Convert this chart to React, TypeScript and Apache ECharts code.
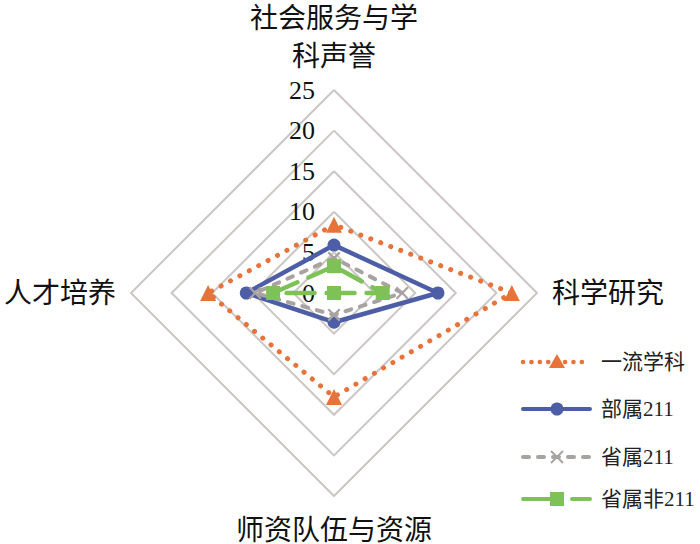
import React, { useEffect, useRef } from "react";
import * as echarts from "echarts";

const indicatorNames = ["社会服务与学\n科声誉", "人才培养", "师资队伍与资源", "科学研究"];
const axisMax = 25;
const seriesNames = ["一流学科", "部属211", "省属211", "省属非211"];
// order: top, left, bottom, right
const yiliu = [8.4, 15.5, 12.8, 21.9];
const bushu211 = [5.9, 10.8, 3.6, 12.8];
const shengshu211 = [4.3, 9.7, 2.7, 8.4];
const shengshuFei211 = [3.3, 7.5, 0, 6.0];

const FONT = '"Liberation Serif", "Noto Sans CJK SC", serif';
const colors = ["#E8733A", "#4E5EA6", "#A8A3A1", "#7DC157"];
const X_PATH =
  "path://M0,1.2 L1.2,0 L5,3.8 L8.8,0 L10,1.2 L6.2,5 L10,8.8 L8.8,10 L5,6.2 L1.2,10 L0,8.8 L3.8,5 Z";

export default function App() {
  const ref = useRef<HTMLDivElement>(null);
  useEffect(() => {
    if (!ref.current) return;
    const chart = echarts.init(ref.current, undefined, { renderer: "svg" });
    const values = [yiliu, bushu211, shengshu211, shengshuFei211];
    const symbols = ["triangle", "circle", X_PATH, "rect"];
    const symbolSizes = [16, 13, 13, 14];
    const widths = [5, 4.5, 4, 4.5];
    const dashes: any[] = [[0.1, 10.6], "solid", [6, 9], [28, 12]];

    const legendYs = [362, 409, 457, 499];
    const legendGraphics: any[] = [];
    seriesNames.forEach((name, i) => {
      const y = legendYs[i];
      const c = colors[i];
      legendGraphics.push({
        type: "line",
        shape: { x1: 523, y1: y, x2: 590, y2: y },
        style: {
          stroke: c,
          lineWidth: i === 0 ? 4.5 : 4,
          lineDash: dashes[i] === "solid" ? null : i === 0 ? [0.1, 8.3] : i === 3 ? [34, 15] : dashes[i],
          lineCap: "round",
        },
      });
      const mx = 557;
      if (i === 0) {
        legendGraphics.push({
          type: "polygon",
          shape: { points: [[mx, y - 8], [mx + 8, y + 6], [mx - 8, y + 6]] },
          style: { fill: c },
        });
      } else if (i === 1) {
        legendGraphics.push({ type: "circle", shape: { cx: mx, cy: y, r: 6.5 }, style: { fill: c } });
      } else if (i === 2) {
        legendGraphics.push({
          type: "line",
          shape: { x1: mx - 6, y1: y - 6, x2: mx + 6, y2: y + 6 },
          style: { stroke: c, lineWidth: 2 },
        });
        legendGraphics.push({
          type: "line",
          shape: { x1: mx - 6, y1: y + 6, x2: mx + 6, y2: y - 6 },
          style: { stroke: c, lineWidth: 2 },
        });
      } else {
        legendGraphics.push({
          type: "rect",
          shape: { x: mx - 7, y: y - 7, width: 14, height: 14 },
          style: { fill: c },
        });
      }
      legendGraphics.push({
        type: "text",
        x: 601,
        y: y,
        style: {
          text: name,
          fill: "#222",
          font: `21px ${FONT}`,
          textVerticalAlign: "middle",
          textAlign: "left",
        },
      });
    });

    chart.setOption({
      animation: false,
      backgroundColor: "#fff",
      radar: {
        center: [334, 293],
        radius: 203,
        startAngle: 90,
        splitNumber: 5,
        shape: "polygon",
        nameGap: 15,
        axisName: {
          color: "#111",
          fontSize: 28,
          lineHeight: 38,
          fontFamily: FONT,
        },
        indicator: indicatorNames.map((name, i) =>
          i === 0
            ? {
                name,
                min: 0,
                max: axisMax,
                axisLabel: {
                  show: true,
                  color: "#111",
                  fontSize: 26,
                  fontFamily: FONT,
                  margin: 19,
                  align: "right",
                  verticalAlign: "middle",
                  padding: [6, 0, 0, 0],
                },
              }
            : { name, min: 0, max: axisMax }
        ),
        splitLine: { lineStyle: { color: "#CBC6C4", width: 2 } },
        splitArea: { show: false },
        axisLine: { show: false },
        axisTick: { show: false },
        axisLabel: { show: false },
      },
      series: seriesNames.map((name, i) => ({
        type: "radar",
        name,
        symbol: symbols[i],
        symbolSize: symbolSizes[i],
        itemStyle: { color: colors[i] },
        lineStyle: {
          color: colors[i],
          width: widths[i],
          type: dashes[i],
          cap: "round",
        },
        data: [{ value: values[i], name }],
        z: 2 + i,
      })),
      graphic: legendGraphics,
    });
    return () => chart.dispose();
  }, []);
  return (
    <div
      ref={ref}
      style={{ position: "fixed", left: 0, top: 0, width: 700, height: 544 }}
    />
  );
}
